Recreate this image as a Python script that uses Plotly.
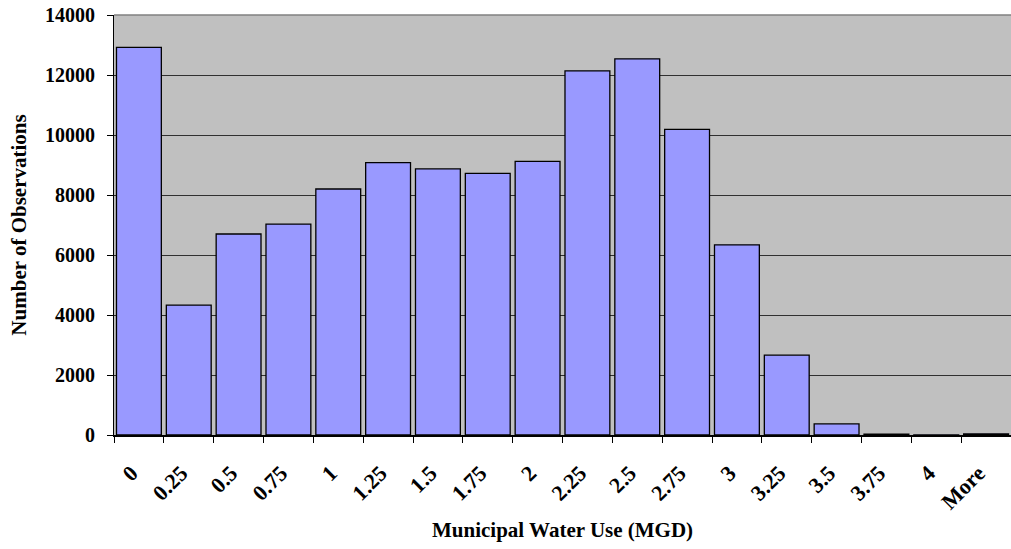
import plotly.graph_objects as go

# Histogram bins and counts
bins = ["0", "0.25", "0.5", "0.75", "1", "1.25", "1.5", "1.75", "2", "2.25",
        "2.5", "2.75", "3", "3.25", "3.5", "3.75", "4", "More"]
counts = [12920, 4330, 6700, 7030, 8200, 9080, 8870, 8720, 9120, 12140,
          12540, 10190, 6340, 2660, 370, 30, 5, 40]

font_name = "Liberation Serif, Times New Roman, serif"
n = len(bins)

fig = go.Figure()
fig.add_trace(go.Bar(
    x=bins, y=counts,
    marker=dict(color="#9999FF", line=dict(color="black", width=1.3)),
))
# empty trace so the label axis gets drawn
fig.add_trace(go.Scatter(x=[], y=[], xaxis="x2", yaxis="y", hoverinfo="skip"))

fig.update_layout(
    width=1011, height=549,
    margin=dict(l=114, r=0, t=15, b=114, autoexpand=False),
    paper_bgcolor="white",
    plot_bgcolor="#C0C0C0",
    bargap=0.1,
    showlegend=False,
    font=dict(family=font_name, color="black"),
)

# top border of the plot area (the 14000 line)
fig.add_shape(type="line", xref="paper", yref="paper", x0=0, x1=1, y0=1, y1=1,
              line=dict(color="#808080", width=1.5))

fig.add_annotation(text="<b>Municipal Water Use (MGD)</b>", xref="paper", yref="paper",
                   x=0.5, y=-0.226, xanchor="center", yanchor="middle",
                   showarrow=False, font=dict(size=21, family=font_name))

fig.update_xaxes(
    type="category",
    tickson="boundaries",
    ticks="outside", ticklen=6, tickcolor="black",
    showticklabels=False,
    showline=True, linecolor="black", linewidth=1.5,
    showgrid=False,
)

# labels on an overlaid axis, nudged a bit left like Excel draws them
shift = 0.15
fig.update_layout(xaxis2=dict(
    overlaying="x", anchor="y", side="bottom",
    range=[-0.5 + shift, n - 0.5 + shift],
    tickmode="array", tickvals=list(range(n)), ticktext=bins,
    ticks="", tickangle=-45, ticklabelstandoff=20,
    tickfont=dict(size=22, family=font_name, weight="bold"),
    showline=False, showgrid=False, zeroline=False,
))

fig.update_yaxes(
    range=[0, 14000], dtick=2000, tickformat="d",
    ticks="outside", ticklen=6, tickcolor="black",
    ticklabelstandoff=8,
    tickfont=dict(size=20, family=font_name, weight="bold"),
    showline=True, linecolor="black", linewidth=1,
    showgrid=True, gridcolor="#303030", gridwidth=1,
    zeroline=False,
    title=dict(text="<b>Number of Observations</b>", font=dict(size=21), standoff=12),
)

# drop the page's default body margin so the figure sits at the window corner
fig.write_html("out.html", config={"displayModeBar": False},
               post_script="document.body.style.margin='0px';")
